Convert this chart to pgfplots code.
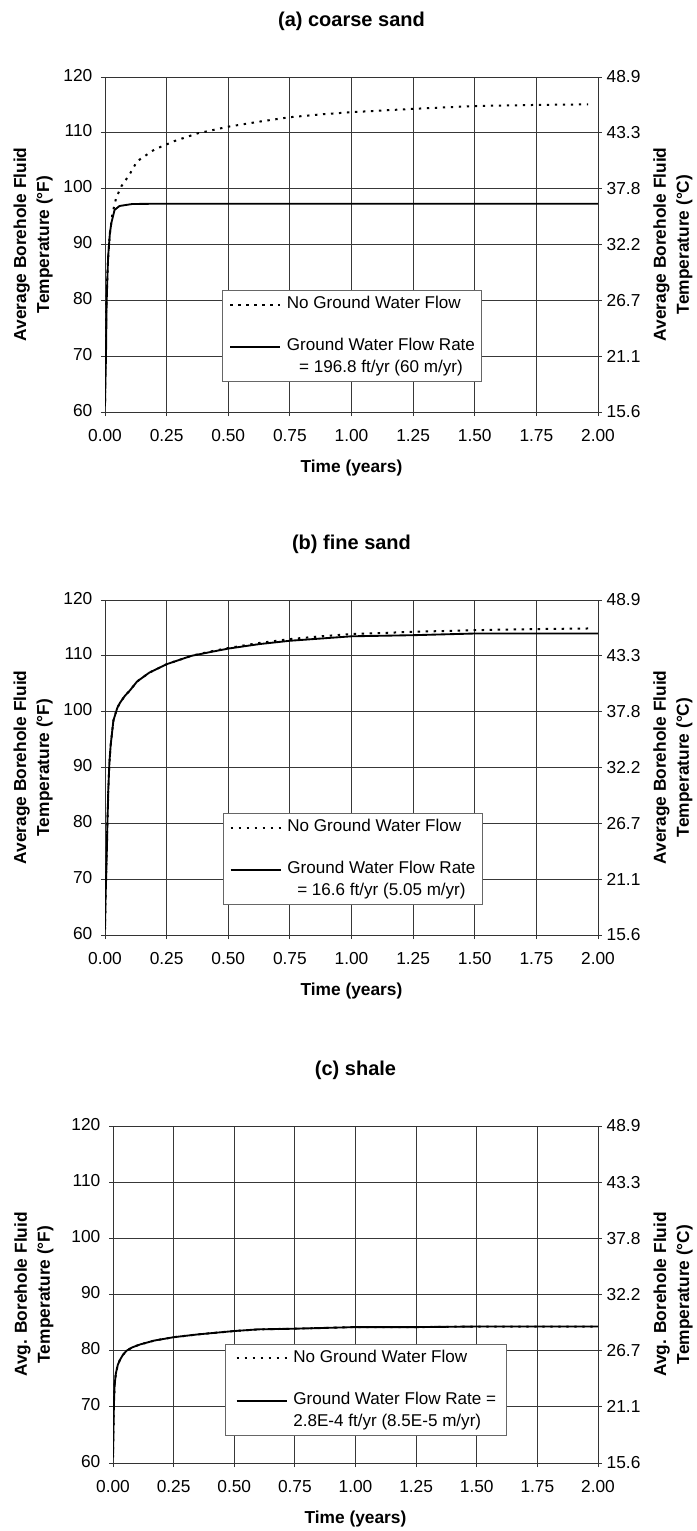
\documentclass[border=0pt]{standalone}
\usepackage{pgfplots}
\pgfplotsset{compat=1.18}
\usepackage{fontspec}
\setmainfont{Liberation Sans}
\newcommand\ticfont{\fontsize{13}{15}\selectfont}
\newcommand\labfont{\fontsize{13}{17.25}\selectfont\bfseries}
\newcommand\titfont{\fontsize{15}{18}\selectfont\bfseries}
\newcommand\legfont{\fontsize{12.8}{16.3}\selectfont}
\protected\def\legA{\vtop{\baselineskip=16.3pt\halign{\hfil##\hfil\cr Ground Water Flow Rate\cr = 196.8 ft/yr (60 m/yr)\cr}}}
\protected\def\legB{\vtop{\baselineskip=16.3pt\halign{\hfil##\hfil\cr Ground Water Flow Rate\cr = 16.6 ft/yr (5.05 m/yr)\cr}}}
\protected\def\legC{\vtop{\baselineskip=16.3pt\halign{##\hfil\cr Ground Water Flow Rate =\cr 2.8E-4 ft/yr (8.5E-5 m/yr)\cr}}}
\pgfplotsset{
  panel/.style={
    scale only axis,
    anchor=south west,
    xmin=0, xmax=2, ymin=60, ymax=120,
    xtick={0,0.25,0.5,0.75,1,1.25,1.5,1.75,2},
    xticklabels={0.00,0.25,0.50,0.75,1.00,1.25,1.50,1.75,2.00},
    ytick={60,70,...,120},
    xtick pos=bottom, ytick pos=left,
    grid=major,
    grid style={draw=black!78, line width=0.6pt},
    axis line style={draw=black!80, line width=0.7pt},
    tick align=outside, major tick length=3pt,
    tick style={draw=black!80, line width=0.6pt},
    tick label style={font=\ticfont},
    typeset ticklabels with strut,
    xticklabel shift=5pt, yticklabel shift=3pt,
    /pgf/number format/assume math mode=true,
    title style={font=\titfont, at={(0.5,1)}, anchor=center, yshift=35.6pt},
    xlabel style={font=\labfont, at={(axis description cs:0.5,-0.167)}, anchor=center},
    ylabel style={font=\labfont, align=center, anchor=center},
    legend style={draw=black!60, line width=0.6pt, fill=white, font=\legfont,
      anchor=north west, inner ysep=2.6pt, row sep=19.4pt, column sep=4.3pt,
      cells={anchor=base west}, nodes={inner xsep=0pt, inner ysep=1.5pt, text depth={}}},
    legend image code/.code={\draw[##1] (0pt,0.3em) -- (37.5pt,0.3em);},
  },
  right panel/.style={
    scale only axis,
    anchor=south west,
    xmin=0, xmax=2, ymin=60, ymax=120,
    axis y line*=right, hide x axis,
    ytick={60,70,...,120},
    yticklabels={15.6,21.1,26.7,32.2,37.8,43.3,48.9},
    axis line style={draw=black!80, line width=0.7pt},
    tick align=outside, major tick length=3pt,
    tick style={draw=black!80, line width=0.6pt},
    tick label style={font=\ticfont},
    ylabel style={font=\labfont, align=center, anchor=center},
  },
  nogw/.style={black, line width=1.5pt, dash pattern=on 1.8pt off 4.2pt},
  gw/.style={black, line width=1.4pt},
}
\begin{document}
\begin{tikzpicture}
\useasboundingbox (0,0) rectangle (522pt,-1148.25pt);
% ---------------- (a) coarse sand
\begin{axis}[panel, at={(78.75pt,-309pt)}, width=369.75pt, height=251.25pt,
  title={(a) coarse sand}, xlabel={Time (years)},
  ylabel={Average Borehole Fluid\\Temperature (°F)},
  ylabel style={at={(axis description cs:-0.146,0.5)}},
  legend style={at={(axis cs:0.475,81.8)}, inner xsep=5pt}]
\addplot[nogw] coordinates {
(0.000,62) (0.002,70) (0.005,78) (0.010,85) (0.015,89) (0.020,92) (0.030,95.5)
(0.045,98.3) (0.066,100.4) (0.099,102.5) (0.13,104.9) (0.20,107.0) (0.28,108.5)
(0.375,109.9) (0.50,111.1) (0.625,112.0) (0.75,112.8) (0.875,113.3) (1.00,113.7)
(1.25,114.3) (1.50,114.8) (1.75,115.0) (1.96,115.1)};
\addlegendentry{No Ground Water Flow}
\addplot[gw] coordinates {
(0.000,61) (0.002,66) (0.004,70) (0.0066,79.5) (0.010,84.5) (0.013,88) (0.020,92.1)
(0.026,93.9) (0.039,96.2) (0.059,96.9) (0.11,97.25) (0.20,97.3) (1.00,97.3) (2.00,97.3)};
\addlegendentry{\legA}
\end{axis}
\begin{axis}[right panel, at={(78.75pt,-309pt)}, width=369.75pt, height=251.25pt,
  ylabel={Average Borehole Fluid\\Temperature (°C)},
  ylabel style={at={(axis description cs:1.152,0.5)}}]
\end{axis}
% ---------------- (b) fine sand
\begin{axis}[panel, at={(78.75pt,-701.25pt)}, width=369.75pt, height=251.25pt,
  title={(b) fine sand}, xlabel={Time (years)},
  ylabel={Average Borehole Fluid\\Temperature (°F)},
  ylabel style={at={(axis description cs:-0.146,0.5)}},
  legend style={at={(axis cs:0.477,81.8)}, inner xsep=5pt}]
\addplot[nogw] coordinates {
(0.000,61) (0.003,68) (0.007,74.2) (0.010,80.5) (0.0135,86.2) (0.018,91) (0.023,94)
(0.034,98.4) (0.050,100.7) (0.061,101.6) (0.080,102.8) (0.101,103.8) (0.13,105.4)
(0.18,107.0) (0.25,108.5) (0.35,110.0) (0.43,110.8) (0.50,111.4) (0.625,112.3)
(0.75,113.0) (0.875,113.5) (1.00,113.9) (1.25,114.3) (1.50,114.6) (1.75,114.8) (1.96,114.9)};
\addlegendentry{No Ground Water Flow}
\addplot[gw] coordinates {
(0.000,61) (0.003,68) (0.007,74.2) (0.010,80.5) (0.0135,86.2) (0.018,91) (0.023,94)
(0.034,98.4) (0.050,100.7) (0.061,101.6) (0.080,102.8) (0.101,103.8) (0.13,105.4)
(0.18,107.0) (0.25,108.5) (0.35,110.0) (0.43,110.7) (0.50,111.3) (0.625,112.1)
(0.75,112.7) (0.875,113.1) (1.00,113.5) (1.25,113.7) (1.50,114.0) (1.75,114.0) (2.00,114.0)};
\addlegendentry{\legB}
\end{axis}
\begin{axis}[right panel, at={(78.75pt,-701.25pt)}, width=369.75pt, height=251.25pt,
  ylabel={Average Borehole Fluid\\Temperature (°C)},
  ylabel style={at={(axis description cs:1.152,0.5)}}]
\end{axis}
% ---------------- (c) shale
\begin{axis}[panel, at={(84.75pt,-1097.25pt)}, width=363.75pt, height=252.75pt,
  title={(c) shale}, xlabel={Time (years)},
  ylabel={Avg. Borehole Fluid\\Temperature (°F)},
  ylabel style={at={(axis description cs:-0.163,0.5)}},
  legend style={at={(axis cs:0.46,81.2)}, inner xsep=8pt}]
\addplot[nogw] coordinates {
(0.000,61) (0.002,66) (0.004,71) (0.007,74.1) (0.012,76) (0.020,77.5) (0.028,78.3)
(0.040,79.2) (0.056,80.0) (0.080,80.6) (0.111,81.1) (0.17,81.8) (0.25,82.4) (0.35,82.9)
(0.50,83.5) (0.60,83.8) (0.736,83.9) (1.00,84.2) (1.25,84.2) (1.50,84.3) (1.75,84.3) (2.00,84.3)};
\addlegendentry{No Ground Water Flow}
\addplot[gw] coordinates {
(0.000,61) (0.002,66) (0.004,71) (0.007,74.1) (0.012,76) (0.020,77.5) (0.028,78.3)
(0.040,79.2) (0.056,80.0) (0.080,80.6) (0.111,81.1) (0.17,81.8) (0.25,82.4) (0.35,82.9)
(0.50,83.5) (0.60,83.8) (0.736,83.9) (1.00,84.2) (1.25,84.2) (1.50,84.3) (1.75,84.3) (2.00,84.3)};
\addlegendentry{\legC}
\end{axis}
\begin{axis}[right panel, at={(84.75pt,-1097.25pt)}, width=363.75pt, height=252.75pt,
  ylabel={Avg. Borehole Fluid\\Temperature (°C)},
  ylabel style={at={(axis description cs:1.155,0.5)}}]
\end{axis}
\end{tikzpicture}
\end{document}
